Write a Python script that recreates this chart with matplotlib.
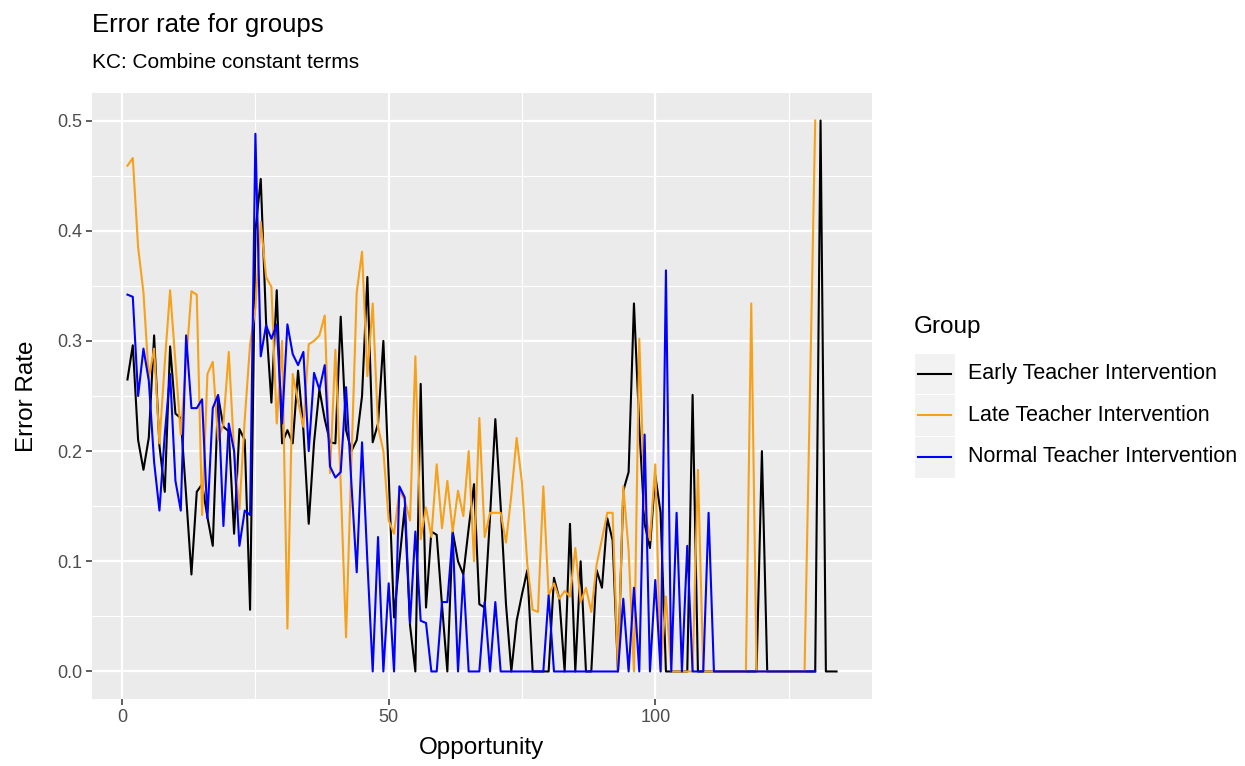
# ----------------- modules ---------------------------------------------------
import numpy as np
import matplotlib
matplotlib.use('Agg')
from matplotlib import pyplot as plt
from matplotlib.lines import Line2D
from matplotlib.patches import Rectangle
# ---------------------------------------------------------------------------


# ----------------- data -----------------------------------------------------
groups = ['Early Teacher Intervention', 'Late Teacher Intervention',
          'Normal Teacher Intervention']
colors = ['black', '#F7A11A', '#0000FF']

early_x = list(range(1, 135))
early_y = [0.265, 0.296, 0.21, 0.183, 0.212, 0.305, 0.205, 0.163, 0.295, 0.234,
           0.23, 0.16, 0.088, 0.163, 0.17, 0.14, 0.114, 0.25, 0.222, 0.218,
           0.125, 0.22, 0.21, 0.056, 0.40, 0.447, 0.317, 0.244, 0.346, 0.207,
           0.219, 0.207, 0.273, 0.219, 0.134, 0.208, 0.256, 0.229, 0.208, 0.207,
           0.322, 0.219, 0.2, 0.21, 0.25, 0.358, 0.208, 0.225, 0.3, 0.178,
           0.049, 0.10, 0.149, 0.042, 0.0, 0.261, 0.058, 0.127, 0.124, 0.06,
           0.0, 0.127, 0.1, 0.088, 0.13, 0.17, 0.061, 0.058, 0.14, 0.229,
           0.15, 0.061, 0.0, 0.046, 0.07, 0.092, 0.0, 0.0, 0.0, 0.0,
           0.085, 0.066, 0.0, 0.134, 0.0, 0.1, 0.0, 0.0, 0.092, 0.076,
           0.139, 0.119, 0.0, 0.164, 0.181, 0.334, 0.222, 0.134, 0.112, 0.178,
           0.144, 0.0, 0.0, 0.0, 0.0, 0.0, 0.251, 0.0, 0.0, 0.0,
           0.0, 0.0, 0.0, 0.0, 0.0, 0.0, 0.0, 0.0, 0.0, 0.2,
           0.0, 0.0, 0.0, 0.0, 0.0, 0.0, 0.0, 0.0, 0.0, 0.0,
           0.5, 0.0, 0.0, 0.0]

late_x = list(range(1, 129)) + [130]
late_y = [0.459, 0.466, 0.385, 0.344, 0.266, 0.293, 0.207, 0.28, 0.346, 0.28,
          0.215, 0.28, 0.345, 0.342, 0.142, 0.27, 0.281, 0.21, 0.225, 0.29,
          0.2, 0.147, 0.229, 0.297, 0.33, 0.408, 0.358, 0.349, 0.225, 0.30,
          0.039, 0.27, 0.245, 0.222, 0.297, 0.30, 0.305, 0.323, 0.18, 0.292,
          0.17, 0.031, 0.19, 0.344, 0.381, 0.268, 0.334, 0.222, 0.2, 0.137,
          0.125, 0.164, 0.156, 0.137, 0.286, 0.12, 0.149, 0.122, 0.188, 0.13,
          0.173, 0.127, 0.164, 0.141, 0.2, 0.1, 0.23, 0.122, 0.144, 0.144,
          0.144, 0.117, 0.16, 0.212, 0.171, 0.097, 0.056, 0.054, 0.168, 0.069,
          0.08, 0.066, 0.073, 0.068, 0.112, 0.063, 0.076, 0.054, 0.097, 0.12,
          0.144, 0.144, 0.0, 0.168, 0.11, 0.0, 0.302, 0.15, 0.119, 0.188,
          0.0, 0.068, 0.0, 0.0, 0.0, 0.0, 0.0, 0.183, 0.0, 0.0,
          0.0, 0.0, 0.0, 0.0, 0.0, 0.0, 0.0, 0.334, 0.0, 0.0,
          0.0, 0.0, 0.0, 0.0, 0.0, 0.0, 0.0, 0.0,
          0.5]

normal_x = list(range(1, 131))
normal_y = [0.342, 0.34, 0.25, 0.293, 0.264, 0.19, 0.146, 0.215, 0.27, 0.173,
            0.146, 0.305, 0.239, 0.239, 0.247, 0.139, 0.239, 0.251, 0.132, 0.225,
            0.2, 0.114, 0.146, 0.142, 0.488, 0.286, 0.314, 0.302, 0.315, 0.225,
            0.315, 0.288, 0.278, 0.29, 0.2, 0.271, 0.256, 0.278, 0.186, 0.176,
            0.181, 0.258, 0.171, 0.09, 0.208, 0.1, 0.0, 0.122, 0.0, 0.08,
            0.0, 0.168, 0.158, 0.044, 0.127, 0.046, 0.044, 0.0, 0.0, 0.063,
            0.063, 0.125, 0.0, 0.088, 0.0, 0.0, 0.0, 0.063, 0.0, 0.063,
            0.0, 0.0, 0.0, 0.0, 0.0, 0.0, 0.0, 0.0, 0.0, 0.069,
            0.0, 0.0, 0.0, 0.0, 0.0, 0.0, 0.0, 0.0, 0.0, 0.0,
            0.0, 0.0, 0.0, 0.066, 0.0, 0.076, 0.0, 0.215, 0.0, 0.083,
            0.0, 0.364, 0.0, 0.144, 0.0, 0.114, 0.0, 0.0, 0.0, 0.144,
            0.0, 0.0, 0.0, 0.0, 0.0, 0.0, 0.0, 0.0, 0.0, 0.0,
            0.0, 0.0, 0.0, 0.0, 0.0, 0.0, 0.0, 0.0, 0.0, 0.0]

series = [(early_x, early_y), (late_x, late_y), (normal_x, normal_y)]

x_ticks = [0, 50, 100]
y_ticks = [0.0, 0.1, 0.2, 0.3, 0.4, 0.5]
# ---------------------------------------------------------------------------


# ----------------- figure (ggplot theme_grey look) ---------------------------
plt.rcParams['font.family'] = ['Liberation Sans', 'DejaVu Sans']
W, H = 1245, 766
fig = plt.figure(figsize=(W / 100, H / 100), dpi=100)

def fx(px):
    return px / W

def fy(py):
    return 1 - py / H

left, right, top, bottom = 92, 872, 93, 699
ax = fig.add_axes([fx(left), fy(bottom), fx(right) - fx(left), fy(top) - fy(bottom)])
ax.set_facecolor('#EBEBEB')
for s in ax.spines.values():
    s.set_visible(False)

# ggplot style expansion (5%)
xmin = min(min(x) for x, _ in series)
xmax = max(max(x) for x, _ in series)
xr = xmax - xmin
ax.set_xlim(xmin - 0.05 * xr, xmax + 0.05 * xr)
ax.set_ylim(-0.025, 0.525)

ax.set_xticks(x_ticks)
ax.set_xticks([25, 75, 125], minor=True)
ax.set_yticks(y_ticks)
ax.set_yticks([0.05, 0.15, 0.25, 0.35, 0.45], minor=True)
ax.set_yticklabels(['%.1f' % v for v in y_ticks])
ax.grid(True, which='major', color='white', lw=1.6)
ax.grid(True, which='minor', color='white', lw=0.8)
ax.set_axisbelow(True)
ax.tick_params(which='major', length=4, width=1.1, color='#333333',
               labelcolor='#4D4D4D', labelsize=13, pad=3)
ax.tick_params(which='minor', length=0)

for (x, y), c in zip(series, colors):
    ax.plot(x, y, color=c, lw=1.5, solid_joinstyle='round')

# axis titles
fig.text(fx((left + right) / 2), fy(748), 'Opportunity', fontsize=17.5,
         ha='center', va='center')
fig.text(fx(27), fy((top + bottom) / 2), 'Error Rate', fontsize=17.5,
         ha='center', va='center', rotation=90)

# titles
fig.text(fx(left), fy(25), 'Error rate for groups', fontsize=18.5, va='center', ha='left')
fig.text(fx(left), fy(63), 'KC: Combine constant terms', fontsize=15, va='center', ha='left')

# ----------------- legend ----------------------------------------------------
fig.text(fx(914), fy(327), 'Group', fontsize=17.5, va='center', ha='left')
key_w, key_h = 41, 41.5
key_top = 353
for i, (g, c) in enumerate(zip(groups, colors)):
    y0 = key_top + i * key_h
    fig.patches.append(Rectangle((fx(914), fy(y0 + key_h)), fx(key_w), key_h / H,
                                 transform=fig.transFigure, facecolor='#F2F2F2',
                                 edgecolor='white', lw=0.8))
    yc = y0 + key_h / 2
    fig.lines.append(Line2D([fx(918), fx(951)], [fy(yc), fy(yc)],
                            transform=fig.transFigure, color=c, lw=1.5))
    fig.text(fx(968), fy(yc), g, fontsize=15.5, va='center', ha='left')

fig.savefig('out.png', dpi=100)
